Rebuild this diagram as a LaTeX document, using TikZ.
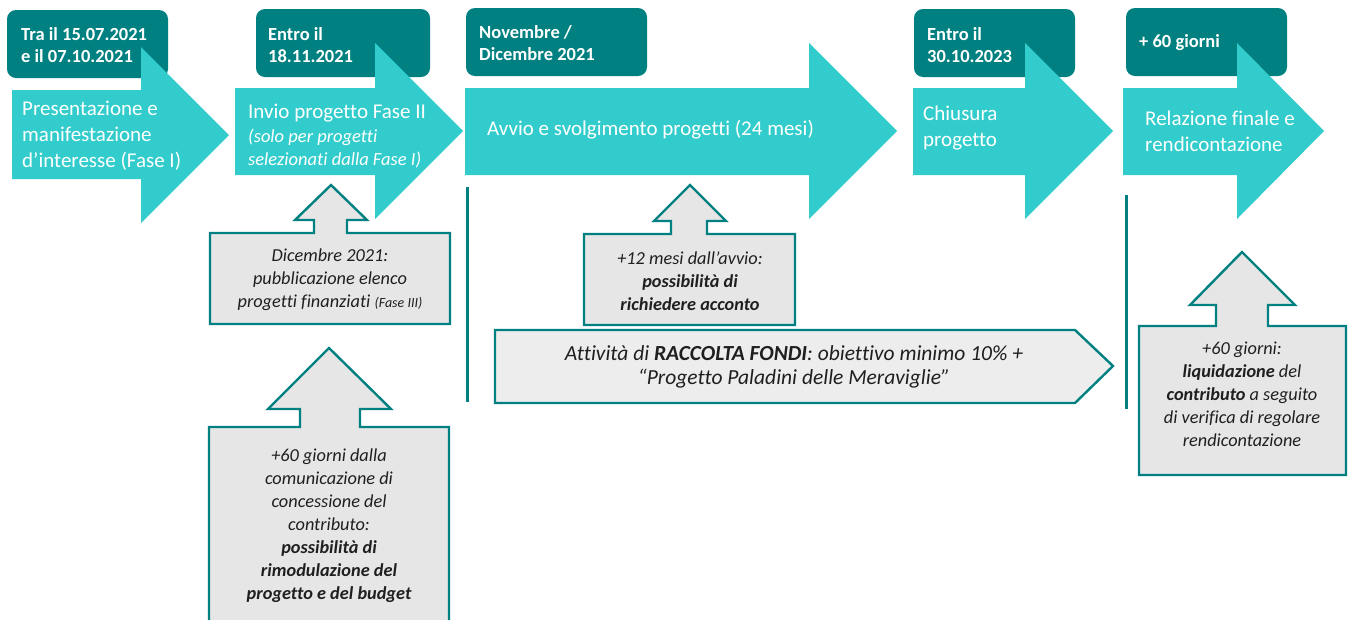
\documentclass[tikz,border=0pt]{standalone}
\usepackage{fontspec}
\setmainfont{Carlito}[RawFeature={-liga;-clig;-calt;-dlig}]
\definecolor{teal1}{HTML}{008080}
\definecolor{cyan1}{HTML}{33CCCC}
\definecolor{gray1}{HTML}{E6E6E6}
\definecolor{gray2}{HTML}{EDEDED}
\definecolor{txt}{HTML}{1F1F1F}
\tikzset{
  datebox/.style={fill=teal1, rounded corners=9pt},
  phasearrow/.style={fill=cyan1},
  callout/.style={fill=gray1, draw=teal1, line width=2.4pt, line join=miter},
  fundarrow/.style={fill=gray2, draw=teal1, line width=2.4pt},
  sepline/.style={draw=teal1, line width=3pt},
  datetext/.style={anchor=west, align=left, inner sep=0, text=white, font=\fontsize{18.5}{22.5}\selectfont\bfseries},
  phasetext/.style={anchor=west, align=left, inner sep=0, text=white, font=\fontsize{21}{25.8}\selectfont},
  phasesub/.style={anchor=west, align=left, inner sep=0, text=white, font=\fontsize{18.5}{23}\selectfont\itshape},
  notetext/.style={align=center, inner sep=0, text=txt, font=\fontsize{18.3}{23}\selectfont\itshape},
  fundtext/.style={align=center, inner sep=0, text=txt, font=\fontsize{21.5}{24.5}\selectfont\itshape}
}
\begin{document}
\begin{tikzpicture}[x=1pt,y=-1pt]
\useasboundingbox (0,0) rectangle (1349,619);
\clip (0,0) rectangle (1349,619);
% date boxes
\fill[datebox] (7,10) rectangle (168,78);
\fill[datebox] (256,9) rectangle (430,77);
\fill[datebox] (466,8) rectangle (647,76);
\fill[datebox] (914,9) rectangle (1075,77);
\fill[datebox] (1126,8) rectangle (1287,76);
% phase arrows
\fill[phasearrow] (12,90)--(141,90)--(141,47)--(229,135)--(141,223)--(141,179)--(12,179)--cycle;
\fill[phasearrow] (235,88)--(375,88)--(375,43)--(463,131)--(375,219)--(375,175)--(235,175)--cycle;
\fill[phasearrow] (465,88)--(809,88)--(809,43)--(897,131)--(809,219)--(809,175)--(465,175)--cycle;
\fill[phasearrow] (913,88)--(1025,88)--(1025,43)--(1113,131)--(1025,219)--(1025,175)--(913,175)--cycle;
\fill[phasearrow] (1123,88)--(1237,88)--(1237,43)--(1324,131)--(1237,219)--(1237,175)--(1123,175)--cycle;
% date texts
\node[datetext] (d1) at (21,45) {Tra il 15.07.2021\\e il 07.10.2021};
\node[datetext] (d2) at (268,45) {Entro il\\18.11.2021};
\node[datetext] (d3) at (479,43) {Novembre /\\Dicembre 2021};
\node[datetext] (d4) at (927,45) {Entro il\\30.10.2023};
\node[datetext] (d5) at (1139,43) {+ 60 giorni};
% phase texts
\node[phasetext] (p1) at (22,136) {Presentazione e\\manifestazione\\d’interesse (Fase I)};
\node[phasetext] (p2) at (248,113) {Invio progetto Fase II};
\node[phasesub] (p2s) at (248,148.5) {(solo per progetti\\selezionati dalla Fase I)};
\node[phasetext] (p3) at (487,130) {Avvio e svolgimento progetti (24 mesi)};
\node[phasetext] (p4) at (923,128) {Chiusura\\progetto};
\node[phasetext] (p5) at (1145,131) {Relazione finale e\\rendicontazione};
% separator lines
\coordinate (l1t) at (467,187); \coordinate (l1b) at (467,402);
\coordinate (l2t) at (1126,195); \coordinate (l2b) at (1126,409);
\draw[sepline] (l1t) -- (l1b);
\draw[sepline] (l2t) -- (l2b);
% callouts
\filldraw[callout] (210,233)--(314,233)--(314,220)--(295,220)--(331,185)--(367,220)--(347,220)--(347,233)--(450,233)--(450,324)--(210,324)--cycle;
\filldraw[callout] (209,427)--(300,427)--(300,409)--(268,409)--(329,348)--(391,409)--(360,409)--(360,427)--(449,427)--(449,630)--(209,630)--cycle;
\filldraw[callout] (584,234)--(671,234)--(671,221)--(654,221)--(690,185)--(726,221)--(707,221)--(707,234)--(795,234)--(795,325)--(584,325)--cycle;
\filldraw[callout] (1139,326)--(1216,326)--(1216,305)--(1190,305)--(1242,252)--(1295,305)--(1268,305)--(1268,326)--(1346,326)--(1346,475)--(1139,475)--cycle;
\filldraw[fundarrow] (495,330)--(1075,330)--(1113,366)--(1075,403)--(495,403)--cycle;
% callout texts
\node[notetext] (nA) at (330,280) {Dicembre 2021:\\pubblicazione elenco\\progetti finanziati {\fontsize{14}{23}\selectfont(Fase III)}};
\node[notetext] (nB) at (329,526) {+60 giorni dalla\\comunicazione di\\concessione del\\contributo:\\\textbf{possibilità di}\\\textbf{rimodulazione del}\\\textbf{progetto e del budget}};
\node[notetext] (nC) at (690,281) {+12 mesi dall’avvio:\\\textbf{possibilità di}\\\textbf{richiedere acconto}};
\node[notetext] (nD) at (1242,394) {+60 giorni:\\\textbf{liquidazione} del\\\textbf{contributo} a seguito\\di verifica di regolare\\rendicontazione};
\node[fundtext] (nF) at (794,367) {Attività di \textbf{RACCOLTA FONDI}: obiettivo minimo 10\% +\\“Progetto Paladini delle Meraviglie”};
\end{tikzpicture}
\end{document}
